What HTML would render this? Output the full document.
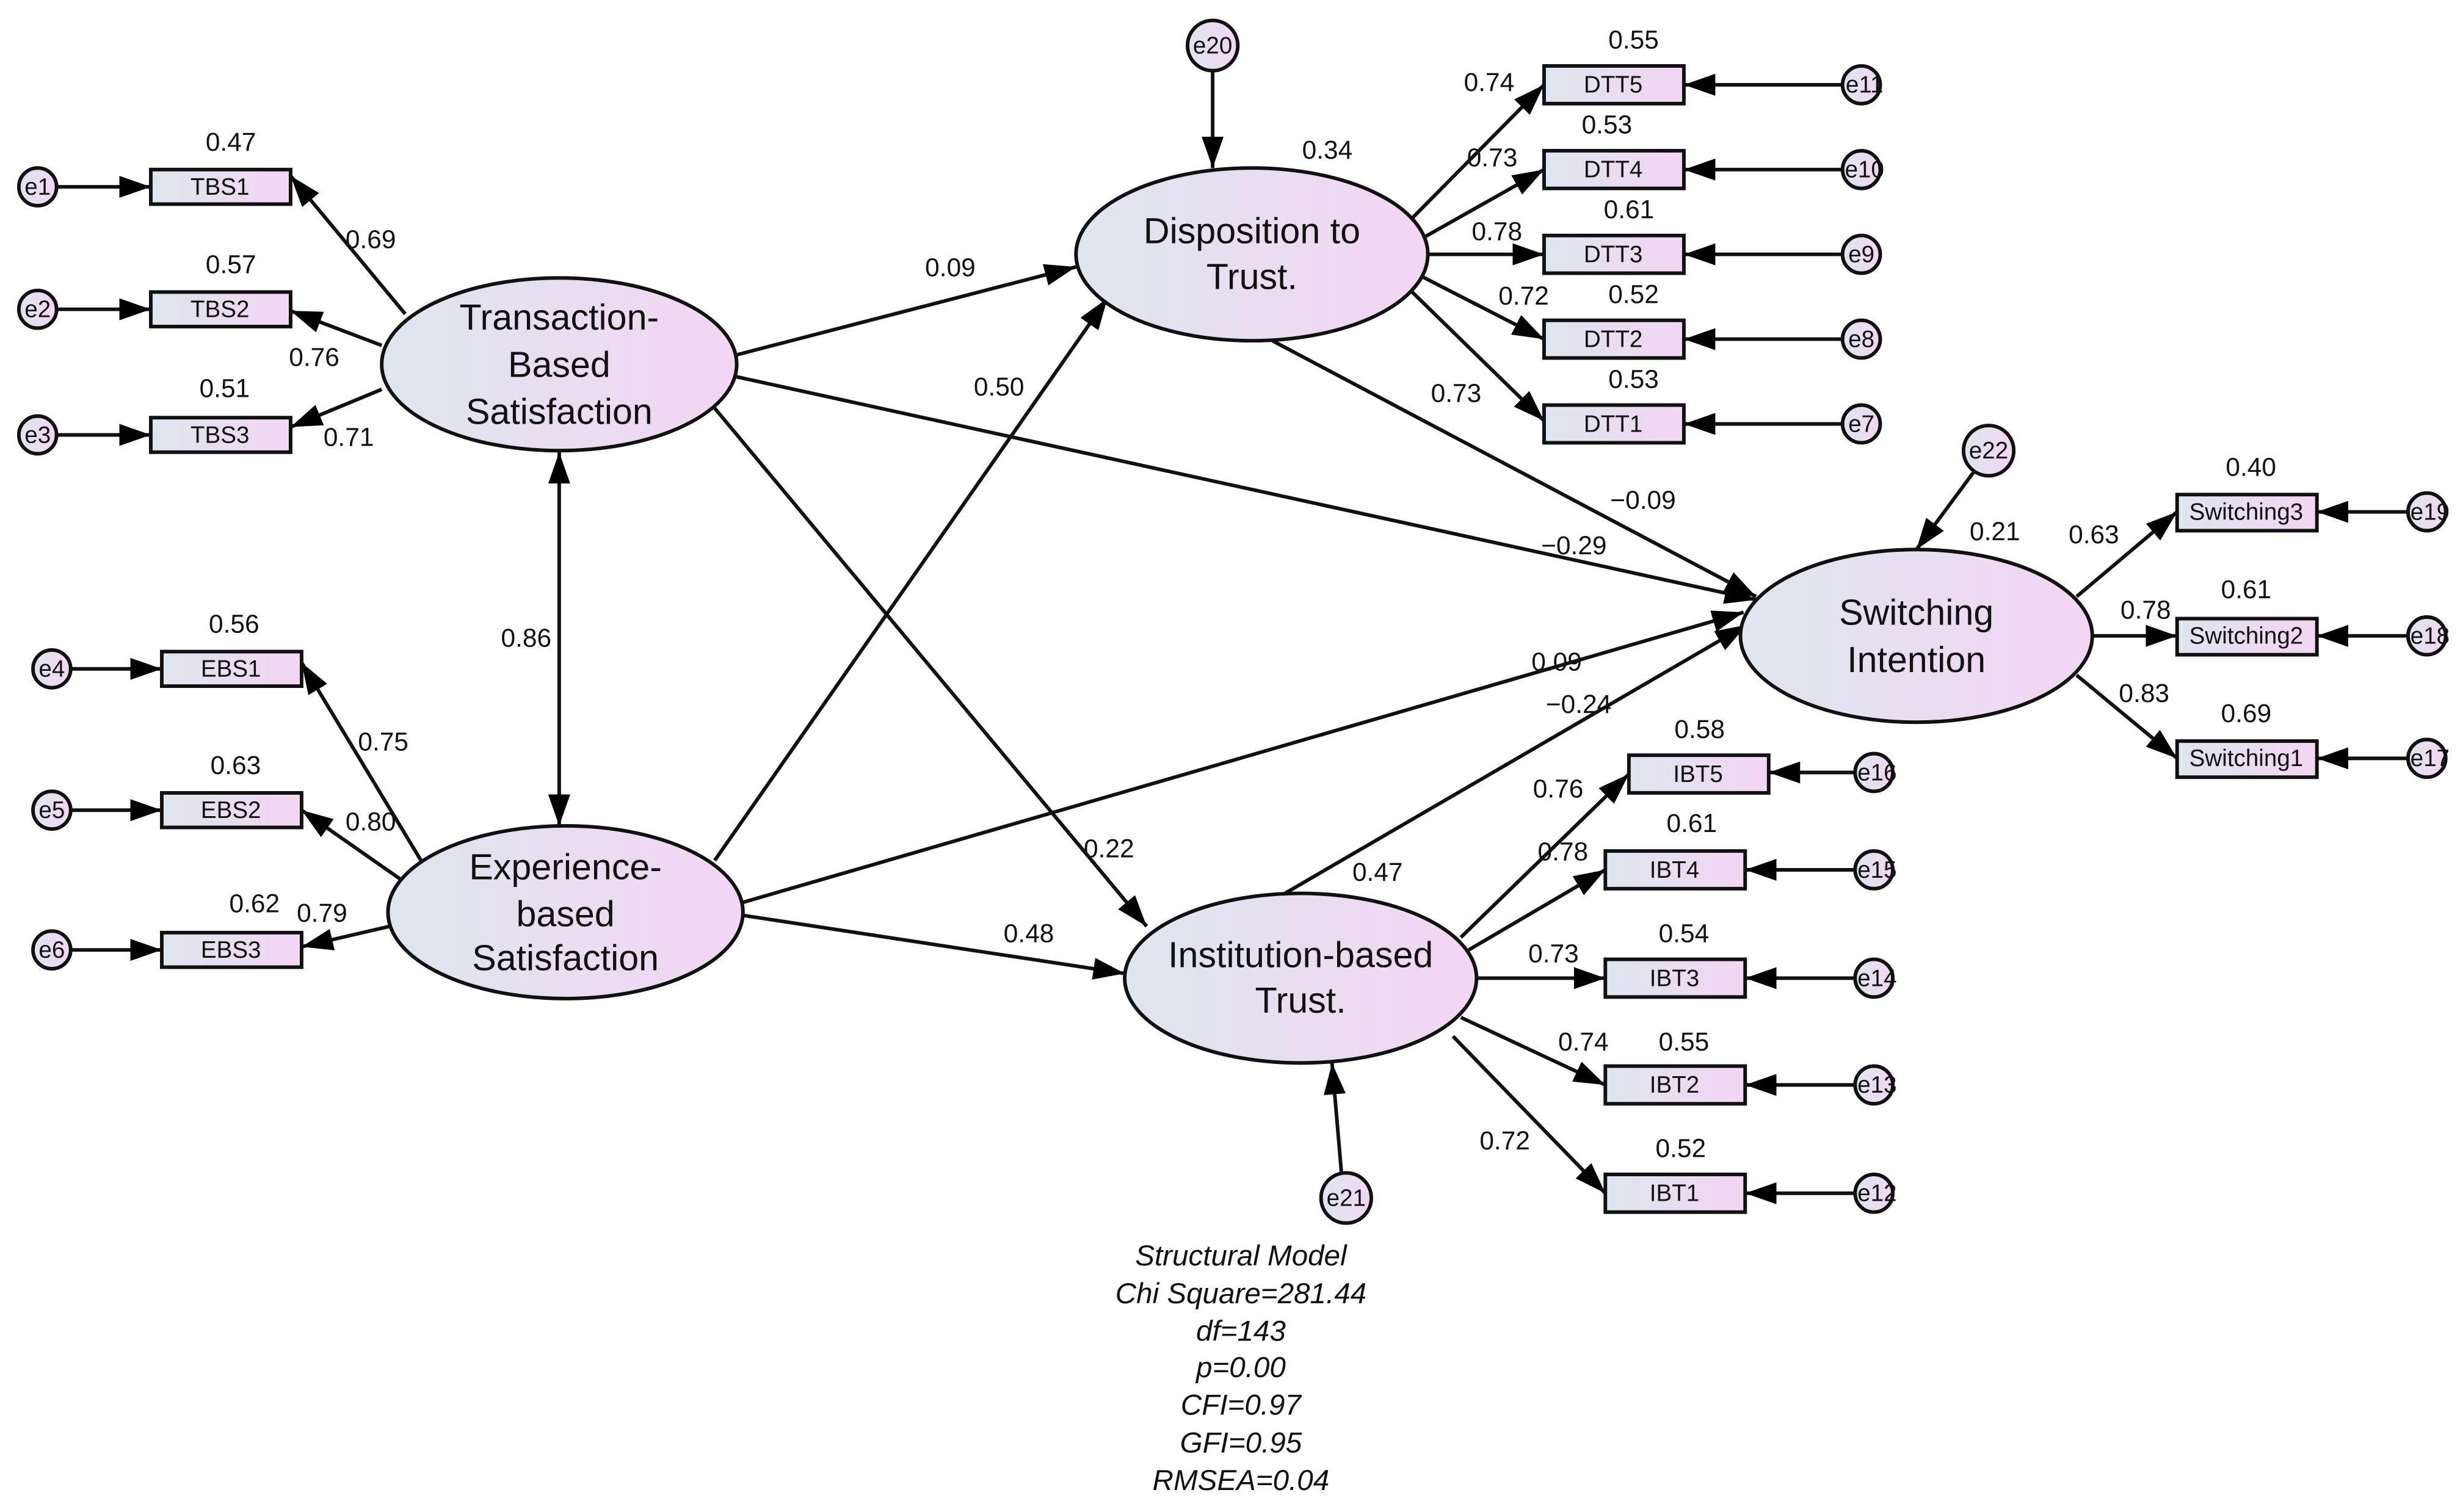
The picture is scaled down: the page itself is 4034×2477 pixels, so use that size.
<!DOCTYPE html>
<html><head><meta charset="utf-8"><style>
html,body{margin:0;padding:0;background:#fff}
svg{display:block}
text{font-family:"Liberation Sans",Arial,sans-serif;fill:#111}
.l{font-size:16.5px}
.b{font-size:15px;text-anchor:middle}
.e{font-size:15px;text-anchor:middle}
.big{font-size:23px;text-anchor:middle}
.it{font-size:18.5px;font-style:italic;text-anchor:middle}
line{stroke:#111;stroke-width:2.3}
rect,ellipse,circle{stroke:#111;stroke-width:2.3}
</style></head><body>
<svg width="4034" height="2477" viewBox="0 0 1568 963" preserveAspectRatio="none" xmlns="http://www.w3.org/2000/svg">
<defs>
<linearGradient id="g" x1="0" y1="0" x2="1" y2="0"><stop offset="0" stop-color="#dde6ee"/><stop offset="1" stop-color="#f4d5f3"/></linearGradient>
<marker id="a" markerWidth="20" markerHeight="14" refX="20" refY="7" orient="auto-start-reverse" markerUnits="userSpaceOnUse"><path d="M0,0 L20,7 L0,14z" fill="#000"/></marker>
</defs>
<g marker-end="url(#a)">
<line x1="36" y1="119" x2="96" y2="119"/><line x1="36" y1="197" x2="96" y2="197"/><line x1="36" y1="277" x2="96" y2="277"/>
<line x1="45" y1="426" x2="103" y2="426"/><line x1="45" y1="516" x2="103" y2="516"/><line x1="45" y1="605" x2="103" y2="605"/>
<line x1="258" y1="200" x2="185" y2="112"/><line x1="243" y1="220" x2="185" y2="198"/><line x1="243" y1="248" x2="185" y2="272"/>
<line x1="268" y1="548" x2="192" y2="422"/><line x1="255" y1="560" x2="192" y2="516"/><line x1="248" y1="590" x2="192" y2="603"/>
<line x1="356" y1="288" x2="356" y2="526" marker-start="url(#a)"/>
<line x1="772" y1="45" x2="772" y2="107"/>
<line x1="898" y1="140" x2="983" y2="54"/><line x1="905" y1="152" x2="983" y2="108"/><line x1="910" y1="162" x2="983" y2="162"/><line x1="905" y1="176" x2="983" y2="216"/><line x1="898" y1="185" x2="983" y2="268"/>
<line x1="1173" y1="54" x2="1072" y2="54"/><line x1="1173" y1="108" x2="1072" y2="108"/><line x1="1173" y1="162" x2="1072" y2="162"/><line x1="1173" y1="216" x2="1072" y2="216"/><line x1="1173" y1="270" x2="1072" y2="270"/>
<line x1="854" y1="747" x2="848" y2="677"/>
<line x1="930" y1="597" x2="1037" y2="493"/><line x1="935" y1="605" x2="1022" y2="554"/><line x1="940" y1="623" x2="1022" y2="623"/><line x1="930" y1="648" x2="1022" y2="691"/><line x1="925" y1="660" x2="1022" y2="760"/>
<line x1="1181" y1="492" x2="1126" y2="492"/><line x1="1181" y1="554" x2="1111" y2="554"/><line x1="1181" y1="623" x2="1111" y2="623"/><line x1="1181" y1="691" x2="1111" y2="691"/><line x1="1181" y1="760" x2="1111" y2="760"/>
<line x1="1257" y1="300" x2="1220" y2="350"/>
<line x1="1322" y1="380" x2="1386" y2="326"/><line x1="1332" y1="405" x2="1386" y2="405"/><line x1="1322" y1="430" x2="1386" y2="483"/>
<line x1="1533" y1="326" x2="1475" y2="326"/><line x1="1533" y1="405" x2="1475" y2="405"/><line x1="1533" y1="483" x2="1475" y2="483"/>
<line x1="469" y1="226" x2="685" y2="170"/>
<line x1="455" y1="548" x2="705" y2="190"/>
<line x1="469" y1="240" x2="1118" y2="382"/>
<line x1="810" y1="217" x2="1118" y2="380"/>
<line x1="472" y1="575" x2="1110" y2="390"/>
<line x1="818" y1="569" x2="1112" y2="398"/>
<line x1="455" y1="260" x2="730" y2="590"/>
<line x1="473" y1="583" x2="716" y2="620"/>
</g>
<ellipse cx="356" cy="232" rx="113" ry="55" fill="url(#g)"/>
<ellipse cx="360" cy="581" rx="113" ry="55" fill="url(#g)"/>
<ellipse cx="797" cy="162" rx="112" ry="55" fill="url(#g)"/>
<ellipse cx="828" cy="623" rx="112" ry="54" fill="url(#g)"/>
<ellipse cx="1220" cy="405" rx="112" ry="55" fill="url(#g)"/>
<text class="big" x="356" y="210">Transaction-</text><text class="big" x="356" y="240">Based</text><text class="big" x="356" y="270">Satisfaction</text>
<text class="big" x="360" y="560">Experience-</text><text class="big" x="360" y="590">based</text><text class="big" x="360" y="618">Satisfaction</text>
<text class="big" x="797" y="155">Disposition to</text><text class="big" x="797" y="184">Trust.</text>
<text class="big" x="828" y="616">Institution-based</text><text class="big" x="828" y="645">Trust.</text>
<text class="big" x="1220" y="398">Switching</text><text class="big" x="1220" y="428">Intention</text>
<g fill="url(#g)">
<rect x="96" y="108" width="89" height="22"/><rect x="96" y="186" width="89" height="22"/><rect x="96" y="266" width="89" height="22"/>
<rect x="103" y="415" width="89" height="22"/><rect x="103" y="505" width="89" height="22"/><rect x="103" y="594" width="89" height="22"/>
<rect x="983" y="42" width="89" height="24"/><rect x="983" y="96" width="89" height="24"/><rect x="983" y="150" width="89" height="24"/><rect x="983" y="204" width="89" height="24"/><rect x="983" y="258" width="89" height="24"/>
<rect x="1037" y="481" width="89" height="24"/><rect x="1022" y="542" width="89" height="24"/><rect x="1022" y="611" width="89" height="24"/><rect x="1022" y="679" width="89" height="24"/><rect x="1022" y="748" width="89" height="24"/>
<rect x="1386" y="315" width="89" height="23"/><rect x="1386" y="394" width="89" height="23"/><rect x="1386" y="472" width="89" height="23"/>
</g>
<text class="b" x="140" y="124">TBS1</text><text class="b" x="140" y="202">TBS2</text><text class="b" x="140" y="282">TBS3</text>
<text class="b" x="147" y="431">EBS1</text><text class="b" x="147" y="521">EBS2</text><text class="b" x="147" y="610">EBS3</text>
<text class="b" x="1027" y="59">DTT5</text><text class="b" x="1027" y="113">DTT4</text><text class="b" x="1027" y="167">DTT3</text><text class="b" x="1027" y="221">DTT2</text><text class="b" x="1027" y="275">DTT1</text>
<text class="b" x="1081" y="498">IBT5</text><text class="b" x="1066" y="559">IBT4</text><text class="b" x="1066" y="628">IBT3</text><text class="b" x="1066" y="696">IBT2</text><text class="b" x="1066" y="765">IBT1</text>
<text class="b" x="1430" y="331">Switching3</text><text class="b" x="1430" y="410">Switching2</text><text class="b" x="1430" y="488">Switching1</text>
<g fill="url(#g)">
<circle cx="24" cy="119" r="12"/><circle cx="24" cy="197" r="12"/><circle cx="24" cy="277" r="12"/>
<circle cx="33" cy="426" r="12"/><circle cx="33" cy="516" r="12"/><circle cx="33" cy="605" r="12"/>
<circle cx="772" cy="29" r="16"/><circle cx="857" cy="763" r="16"/><circle cx="1266" cy="287" r="16"/>
<circle cx="1185" cy="54" r="12"/><circle cx="1185" cy="108" r="12"/><circle cx="1185" cy="162" r="12"/><circle cx="1185" cy="216" r="12"/><circle cx="1185" cy="270" r="12"/>
<circle cx="1193" cy="492" r="12"/><circle cx="1193" cy="554" r="12"/><circle cx="1193" cy="623" r="12"/><circle cx="1193" cy="691" r="12"/><circle cx="1193" cy="760" r="12"/>
<circle cx="1545" cy="326" r="12"/><circle cx="1545" cy="405" r="12"/><circle cx="1545" cy="483" r="12"/>
</g>
<g>
<text class="e" x="24" y="124">e1</text><text class="e" x="24" y="202">e2</text><text class="e" x="24" y="282">e3</text>
<text class="e" x="33" y="431">e4</text><text class="e" x="33" y="521">e5</text><text class="e" x="33" y="610">e6</text>
<text class="e" x="772" y="34">e20</text><text class="e" x="857" y="768">e21</text><text class="e" x="1266" y="292">e22</text>
<text class="e" x="1187" y="59">e11</text><text class="e" x="1187" y="113">e10</text><text class="e" x="1185" y="167">e9</text><text class="e" x="1185" y="221">e8</text><text class="e" x="1185" y="275">e7</text>
<text class="e" x="1195" y="497">e16</text><text class="e" x="1195" y="559">e15</text><text class="e" x="1195" y="628">e14</text><text class="e" x="1195" y="696">e13</text><text class="e" x="1195" y="765">e12</text>
<text class="e" x="1547" y="331">e19</text><text class="e" x="1547" y="410">e18</text><text class="e" x="1547" y="488">e17</text>
</g>
<g class="l" text-anchor="middle">
<text x="147" y="96">0.47</text><text x="147" y="174">0.57</text><text x="143" y="253">0.51</text>
<text x="236" y="158">0.69</text><text x="200" y="233">0.76</text><text x="222" y="284">0.71</text>
<text x="149" y="403">0.56</text><text x="150" y="493">0.63</text><text x="162" y="581">0.62</text>
<text x="244" y="478">0.75</text><text x="236" y="529">0.80</text><text x="205" y="587">0.79</text>
<text x="335" y="412">0.86</text>
<text x="845" y="101">0.34</text>
<text x="1040" y="31">0.55</text><text x="1023" y="85">0.53</text><text x="1037" y="139">0.61</text><text x="1040" y="193">0.52</text><text x="1040" y="247">0.53</text>
<text x="948" y="58">0.74</text><text x="950" y="106">0.73</text><text x="953" y="153">0.78</text><text x="970" y="194">0.72</text><text x="927" y="256">0.73</text>
<text x="1082" y="470">0.58</text><text x="1077" y="530">0.61</text><text x="1072" y="600">0.54</text><text x="1072" y="669">0.55</text><text x="1070" y="737">0.52</text>
<text x="992" y="508">0.76</text><text x="995" y="548">0.78</text><text x="989" y="613">0.73</text><text x="1008" y="669">0.74</text><text x="958" y="732">0.72</text>
<text x="1270" y="344">0.21</text>
<text x="1433" y="303">0.40</text><text x="1430" y="381">0.61</text><text x="1430" y="460">0.69</text>
<text x="1333" y="346">0.63</text><text x="1366" y="394">0.78</text><text x="1365" y="447">0.83</text>
<text x="605" y="176">0.09</text><text x="636" y="252">0.50</text>
<text x="1002" y="353">−0.29</text><text x="1046" y="324">−0.09</text>
<text x="991" y="427">0.09</text><text x="1005" y="454">−0.24</text>
<text x="877" y="561">0.47</text><text x="706" y="546">0.22</text><text x="655" y="600">0.48</text>
</g>
<text class="it" x="790" y="806">Structural Model</text>
<text class="it" x="790" y="830">Chi Square=281.44</text>
<text class="it" x="790" y="854">df=143</text>
<text class="it" x="790" y="877">p=0.00</text>
<text class="it" x="790" y="901">CFI=0.97</text>
<text class="it" x="790" y="925">GFI=0.95</text>
<text class="it" x="790" y="949">RMSEA=0.04</text>
</svg>
</body></html>
